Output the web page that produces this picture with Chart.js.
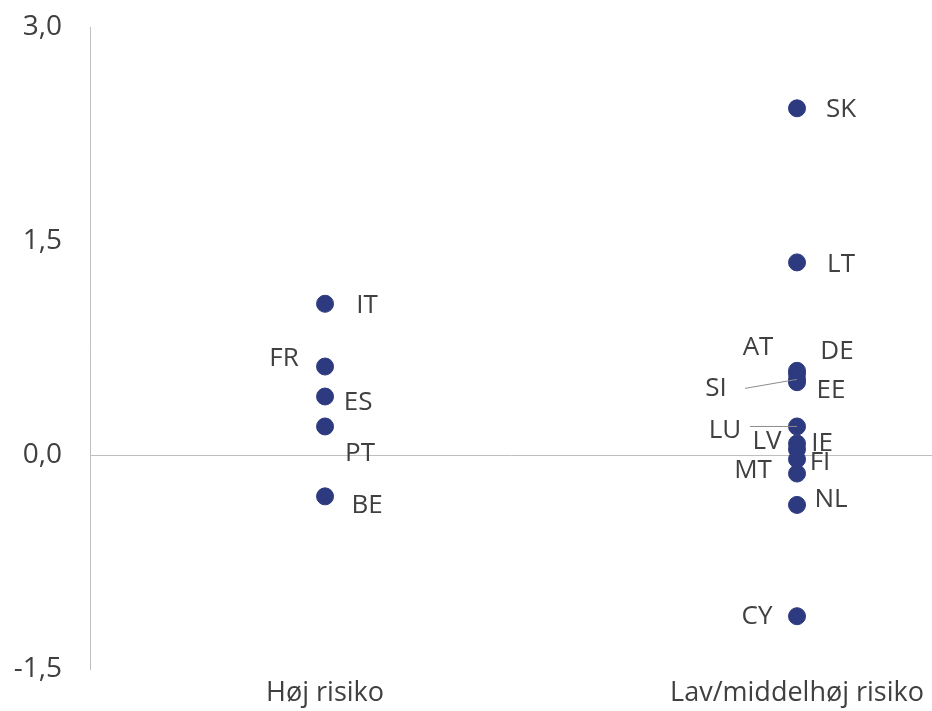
<!DOCTYPE html>
<html>
<head>
<meta charset="utf-8">
<script src="https://cdn.jsdelivr.net/npm/chart.js@4.4.1/dist/chart.umd.min.js"></script>
<style>
  html, body { margin: 0; padding: 0; background: #fff; overflow: hidden; }
  #riskChart { display: block; }
</style>
</head>
<body>
<canvas id="riskChart" width="932" height="711"></canvas>
<script>
// data
var categories = ['Høj risiko', 'Lav/middelhøj risiko'];
var hojCodes = ['IT', 'FR', 'ES', 'PT', 'BE'];
var hojValues = [1.06, 0.62, 0.41, 0.20, -0.29];
var lavCodes = ['SK', 'LT', 'DE', 'AT', 'SI', 'EE', 'LU', 'LV', 'IE', 'FI', 'MT', 'NL', 'CY'];
var lavValues = [2.43, 1.35, 0.59, 0.57, 0.53, 0.51, 0.20, 0.08, 0.04, -0.03, -0.13, -0.35, -1.13];
var yTicks = [-1.5, 0, 1.5, 3.0];

// label placement (px relative to the point), leader = start of leader line
var labelPos = {
    IT: { dx: 42, dy: 2 },
    FR: { dx: -41, dy: -8 },
    ES: { dx: 33, dy: 6 },
    PT: { dx: 35, dy: 27 },
    BE: { dx: 42, dy: 9 },
    SK: { dx: 44, dy: 1 },
    LT: { dx: 44, dy: 2 },
    DE: { dx: 40, dy: -19 },
    AT: { dx: -39, dy: -26 },
    SI: { dx: -81, dy: 9, leader: [-52, 9] },
    EE: { dx: 34, dy: 8 },
    LU: { dx: -72, dy: 4, leader: [-47, 0] },
    LV: { dx: -30, dy: -2 },
    IE: { dx: 25, dy: -6 },
    FI: { dx: 23, dy: 3 },
    MT: { dx: -44, dy: -3 },
    NL: { dx: 34, dy: -5 },
    CY: { dx: -40, dy: 0 }
};

var dotColor = '#2e3a7f';
var textColor = '#404040';
var fontFamily = "'Open Sans', 'Noto Sans', sans-serif";

function toPoints(xVal, values) {
    return values.map(function(v) { return { x: xVal, y: v }; });
}

var pointLabels = {
    id: 'pointLabels',
    afterDatasetsDraw: function(chart) {
        var ctx = chart.ctx;
        ctx.save();
        ctx.font = '26px ' + fontFamily;
        ctx.fillStyle = textColor;
        ctx.textAlign = 'center';
        ctx.textBaseline = 'middle';
        chart.data.datasets.forEach(function(ds, di) {
            var meta = chart.getDatasetMeta(di);
            ds.codes.forEach(function(code, i) {
                var el = meta.data[i];
                var p = labelPos[code] || { dx: 30, dy: 0 };
                if (p.leader) {
                    ctx.strokeStyle = '#8c8c8c';
                    ctx.lineWidth = 1;
                    ctx.beginPath();
                    ctx.moveTo(el.x + p.leader[0], el.y + p.leader[1]);
                    ctx.lineTo(el.x, el.y);
                    ctx.stroke();
                }
                ctx.fillText(code, el.x + p.dx, el.y + p.dy);
            });
        });
        ctx.restore();
    }
};

var ctx = document.getElementById('riskChart');
var riskChart = new Chart(ctx, {
    type: 'scatter',
    data: {
        datasets: [{
            label: categories[0],
            codes: hojCodes,
            data: toPoints(1, hojValues),
            backgroundColor: dotColor,
            borderColor: dotColor,
            pointRadius: 8.5,
            pointHoverRadius: 8.5
        }, {
            label: categories[1],
            codes: lavCodes,
            data: toPoints(2, lavValues),
            backgroundColor: dotColor,
            borderColor: dotColor,
            pointRadius: 8.5,
            pointHoverRadius: 8.5
        }]
    },
    options: {
        responsive: false,
        animation: false,
        layout: { autoPadding: false, padding: { top: 27, right: 0, bottom: 0, left: 0 } },
        plugins: {
            legend: { display: false },
            tooltip: { enabled: false }
        },
        scales: {
            x: {
                type: 'linear',
                min: 0.502,
                max: 2.286,
                afterBuildTicks: function(scale) {
                    scale.ticks = [{ value: 1 }, { value: 2 }];
                },
                afterFit: function(scale) {
                    scale.paddingLeft = 0;
                    scale.paddingRight = 0;
                    scale.height = 42;
                },
                border: { display: false },
                grid: { display: false, drawTicks: false },
                ticks: {
                    padding: 8,
                    color: textColor,
                    font: { family: fontFamily, size: 27 },
                    maxRotation: 0,
                    autoSkip: false,
                    callback: function(v) { return categories[v - 1]; }
                }
            },
            y: {
                min: -1.5,
                max: 3.0,
                afterBuildTicks: function(scale) {
                    scale.ticks = yTicks.map(function(v) { return { value: v }; });
                },
                afterFit: function(scale) {
                    scale.width = 90;
                    scale.paddingTop = 0;
                    scale.paddingBottom = 0;
                },
                border: { display: true, color: '#bfbfbf', width: 1 },
                grid: {
                    drawTicks: false,
                    color: function(c) { return c.tick && c.tick.value === 0 ? '#bfbfbf' : 'rgba(0,0,0,0)'; }
                },
                ticks: {
                    padding: 28,
                    color: textColor,
                    font: { family: fontFamily, size: 28 },
                    callback: function(v) { return v.toFixed(1).replace('.', ','); }
                }
            }
        }
    },
    plugins: [pointLabels]
});
</script>
</body>
</html>
